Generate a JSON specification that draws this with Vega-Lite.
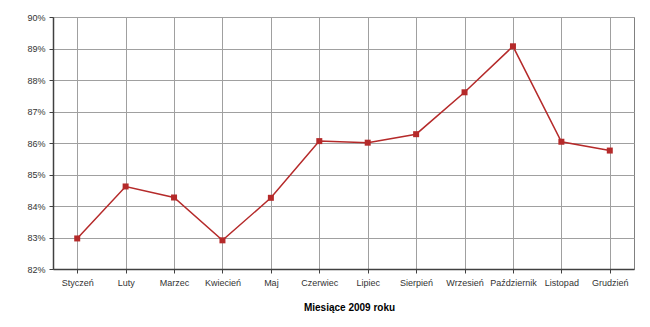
{
  "$schema": "https://vega.github.io/schema/vega-lite/v6.json",
  "autosize": {"type": "none"},
  "padding": {"left": 53, "top": 17, "right": 16, "bottom": 58},
  "width": 581,
  "height": 252,
  "background": "white",
  "config": {
    "font": "Liberation Sans",
    "view": {"stroke": "#808080", "strokeWidth": 1}
  },
  "data": {
    "values": [
      {"miesiac": "Styczeń", "wartosc": 0.8297},
      {"miesiac": "Luty", "wartosc": 0.8462},
      {"miesiac": "Marzec", "wartosc": 0.8427},
      {"miesiac": "Kwiecień", "wartosc": 0.8291},
      {"miesiac": "Maj", "wartosc": 0.8426},
      {"miesiac": "Czerwiec", "wartosc": 0.8606},
      {"miesiac": "Lipiec", "wartosc": 0.8601},
      {"miesiac": "Sierpień", "wartosc": 0.8628},
      {"miesiac": "Wrzesień", "wartosc": 0.8761},
      {"miesiac": "Październik", "wartosc": 0.8907},
      {"miesiac": "Listopad", "wartosc": 0.8604},
      {"miesiac": "Grudzień", "wartosc": 0.8576}
    ]
  },
  "encoding": {
    "x": {
      "field": "miesiac",
      "type": "nominal",
      "sort": null,
      "scale": {"paddingInner": 0, "paddingOuter": 0},
      "axis": {
        "title": "Miesiące 2009  roku",
        "titleFont": "Liberation Sans",
        "titleFontSize": 10,
        "titleFontWeight": "bold",
        "titleColor": "#000000",
        "titlePadding": 15,
        "titleX": 296,
        "labelAngle": 0,
        "labelFontSize": 9,
        "labelColor": "#333333",
        "labelPadding": 5,
        "bandPosition": 0,
        "grid": true,
        "gridColor": "#a0a0a0",
        "gridWidth": 1,
        "domainColor": "#404040",
        "domainWidth": 1.5,
        "tickColor": "#404040",
        "tickSize": 4,
        "labelBound": false
      }
    },
    "y": {
      "field": "wartosc",
      "type": "quantitative",
      "scale": {"domain": [0.82, 0.90], "nice": false, "zero": false},
      "axis": {
        "title": null,
        "format": ".0%",
        "values": [0.82, 0.83, 0.84, 0.85, 0.86, 0.87, 0.88, 0.89, 0.90],
        "labelFontSize": 9,
        "labelColor": "#333333",
        "labelPadding": 4,
        "grid": true,
        "gridColor": "#a0a0a0",
        "gridWidth": 1,
        "domainColor": "#404040",
        "domainWidth": 1.5,
        "tickColor": "#404040",
        "tickSize": 4
      }
    }
  },
  "layer": [
    {
      "mark": {"type": "line", "color": "#b52a2a", "strokeWidth": 1.5}
    },
    {
      "mark": {"type": "point", "shape": "square", "filled": true, "size": 36, "color": "#b52a2a", "opacity": 1}
    }
  ]
}
